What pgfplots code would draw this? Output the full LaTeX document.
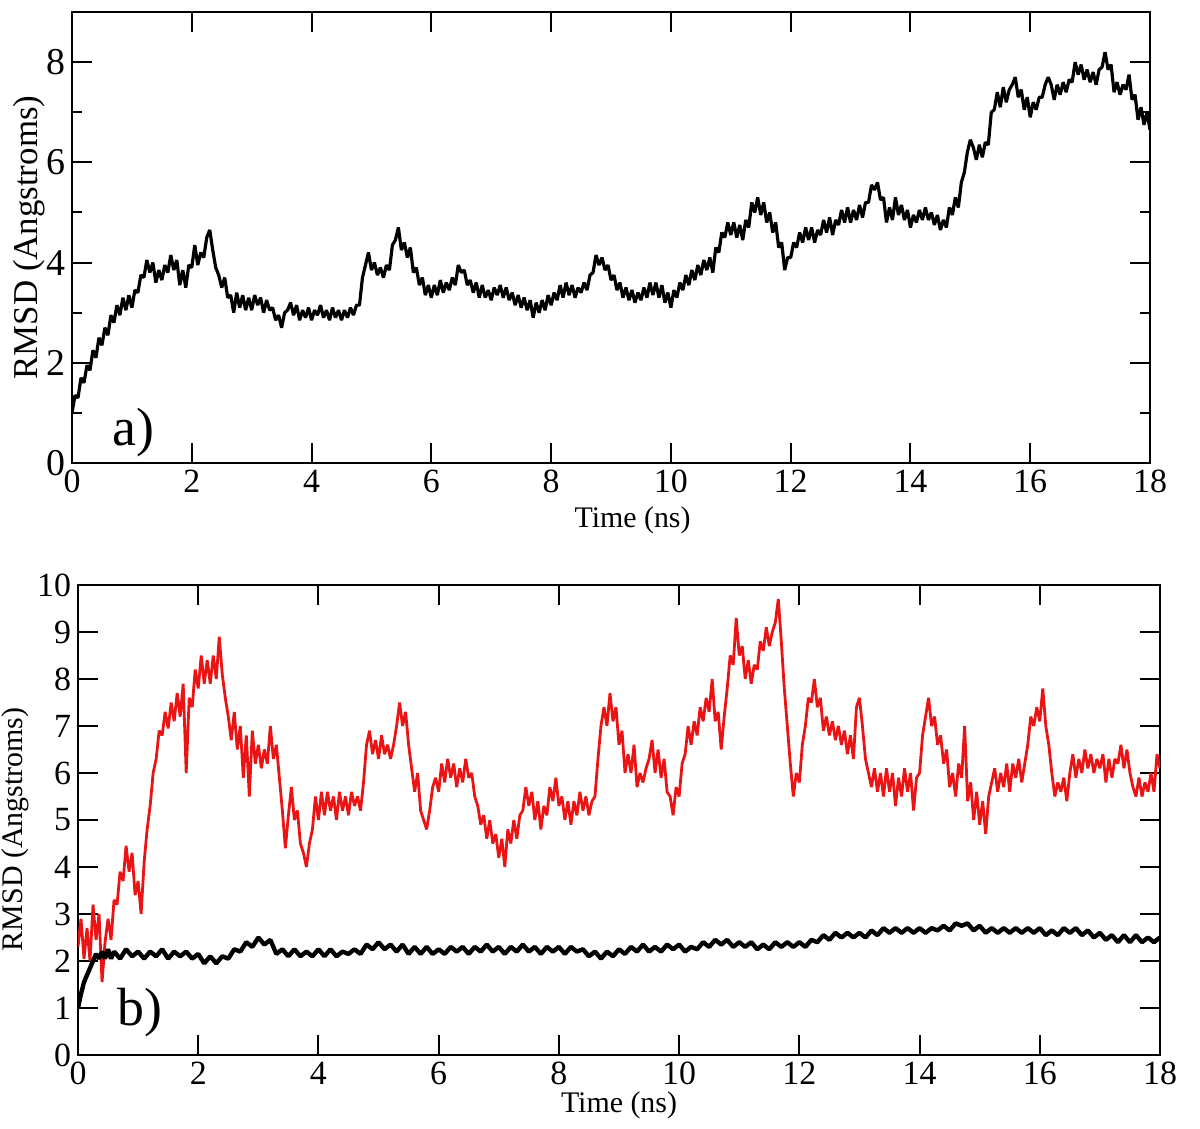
\documentclass[border=0pt]{standalone}
\usepackage{fontspec}
\setmainfont{Liberation Serif}
\usepackage{pgfplots}
\pgfplotsset{compat=1.18}
\definecolor{tracered}{RGB}{235,20,20}
\begin{document}
\begin{tikzpicture}
\useasboundingbox (0,0) rectangle (600bp,564.5bp);
\pgfplotsset{
  rmsd/.style={
    scale only axis,
    anchor=south west,
    xmin=0, xmax=18,
    xtick={0,2,...,18},
    tick align=inside,
    major tick length=10bp,
    minor tick length=5bp,
    axis line style={line width=1bp},
    every tick/.style={line width=1bp,black},
    /pgf/number format/assume math mode=true,
    xticklabel style={font=\fontsize{17}{17}\selectfont},
    yticklabel style={font=\fontsize{17}{17}\selectfont},
    xlabel={Time (ns)},
    ylabel={RMSD (Angstroms)},
    clip=true,
  }
}
\begin{axis}[rmsd,
  at={(36bp,333bp)}, width=539bp, height=225.5bp,
  ymin=0, ymax=9,
  ytick={0,2,4,6,8}, minor ytick={1,3,5,7},
  yticklabel style={font=\fontsize{19}{19}\selectfont},
  xlabel style={font=\fontsize{15}{15}\selectfont, at={(axis description cs:0.52,-0.126)}, anchor=center},
  ylabel style={font=\fontsize{17.5}{17.5}\selectfont, at={(axis description cs:-0.04,0.5)}, anchor=center},
]
\addplot[black, line width=1.6pt, line join=bevel] coordinates {
(0.00,1.00) (0.05,1.35) (0.10,1.30) (0.15,1.70) (0.20,1.60) (0.25,1.95) (0.30,1.85) (0.35,2.25) (0.40,2.10) (0.45,2.50)
(0.50,2.35) (0.55,2.70) (0.60,2.55) (0.65,2.95) (0.70,2.80) (0.75,3.15) (0.80,2.95) (0.85,3.30) (0.90,3.05) (0.95,3.35)
(1.00,3.10) (1.05,3.45) (1.10,3.40) (1.15,3.75) (1.20,3.70) (1.25,4.05) (1.30,3.80) (1.35,4.00) (1.40,3.60) (1.45,3.85)
(1.50,3.65) (1.55,3.95) (1.60,3.80) (1.65,4.15) (1.70,3.85) (1.75,4.05) (1.80,3.55) (1.85,3.85) (1.90,3.50) (1.95,3.95)
(2.00,3.90) (2.05,4.35) (2.10,3.95) (2.15,4.20) (2.20,4.10) (2.25,4.50) (2.30,4.65) (2.35,4.25) (2.40,3.90) (2.45,3.75)
(2.50,3.50) (2.55,3.70) (2.60,3.30) (2.65,3.35) (2.70,3.00) (2.75,3.40) (2.80,3.10) (2.85,3.35) (2.90,3.05) (2.95,3.30)
(3.00,3.05) (3.05,3.35) (3.10,3.15) (3.15,3.30) (3.20,3.00) (3.25,3.25) (3.30,3.05) (3.35,3.10) (3.40,2.85) (3.45,2.95)
(3.50,2.70) (3.55,3.00) (3.60,3.05) (3.65,3.20) (3.70,2.95) (3.75,3.15) (3.80,2.85) (3.85,3.05) (3.90,2.90) (3.95,3.10)
(4.00,2.85) (4.05,3.05) (4.10,2.95) (4.15,3.15) (4.20,2.90) (4.25,3.05) (4.30,2.85) (4.35,3.10) (4.40,2.90) (4.45,3.05)
(4.50,2.85) (4.55,3.05) (4.60,2.90) (4.65,3.10) (4.70,2.95) (4.75,3.15) (4.80,3.15) (4.85,3.70) (4.90,3.95) (4.95,4.20)
(5.00,3.85) (5.05,4.00) (5.10,3.75) (5.15,3.90) (5.20,3.70) (5.25,3.95) (5.30,3.85) (5.35,4.35) (5.40,4.45) (5.45,4.70)
(5.50,4.25) (5.55,4.40) (5.60,4.10) (5.65,4.30) (5.70,3.80) (5.75,3.90) (5.80,3.55) (5.85,3.70) (5.90,3.35) (5.95,3.55)
(6.00,3.30) (6.05,3.55) (6.10,3.35) (6.15,3.65) (6.20,3.40) (6.25,3.60) (6.30,3.45) (6.35,3.70) (6.40,3.55) (6.45,3.95)
(6.50,3.80) (6.55,3.85) (6.60,3.55) (6.65,3.65) (6.70,3.40) (6.75,3.60) (6.80,3.30) (6.85,3.55) (6.90,3.30) (6.95,3.45)
(7.00,3.25) (7.05,3.50) (7.10,3.35) (7.15,3.55) (7.20,3.30) (7.25,3.50) (7.30,3.25) (7.35,3.40) (7.40,3.15) (7.45,3.35)
(7.50,3.10) (7.55,3.30) (7.60,3.05) (7.65,3.25) (7.70,2.90) (7.75,3.20) (7.80,3.00) (7.85,3.25) (7.90,3.05) (7.95,3.35)
(8.00,3.15) (8.05,3.40) (8.10,3.25) (8.15,3.55) (8.20,3.30) (8.25,3.60) (8.30,3.35) (8.35,3.55) (8.40,3.30) (8.45,3.50)
(8.50,3.40) (8.55,3.60) (8.60,3.45) (8.65,3.75) (8.70,3.80) (8.75,4.15) (8.80,3.95) (8.85,4.10) (8.90,3.85) (8.95,3.95)
(9.00,3.65) (9.05,3.75) (9.10,3.45) (9.15,3.60) (9.20,3.30) (9.25,3.50) (9.30,3.25) (9.35,3.45) (9.40,3.20) (9.45,3.40)
(9.50,3.25) (9.55,3.50) (9.60,3.30) (9.65,3.60) (9.70,3.35) (9.75,3.60) (9.80,3.30) (9.85,3.55) (9.90,3.20) (9.95,3.40)
(10.00,3.10) (10.05,3.45) (10.10,3.30) (10.15,3.60) (10.20,3.45) (10.25,3.75) (10.30,3.55) (10.35,3.85) (10.40,3.65) (10.45,3.95)
(10.50,3.75) (10.55,4.05) (10.60,3.85) (10.65,4.10) (10.70,3.80) (10.75,4.30) (10.80,4.20) (10.85,4.60) (10.90,4.50) (10.95,4.80)
(11.00,4.55) (11.05,4.80) (11.10,4.50) (11.15,4.75) (11.20,4.45) (11.25,4.85) (11.30,4.70) (11.35,5.20) (11.40,5.00) (11.45,5.30)
(11.50,4.95) (11.55,5.20) (11.60,4.80) (11.65,5.00) (11.70,4.60) (11.75,4.80) (11.80,4.30) (11.85,4.40) (11.90,3.85) (11.95,4.10)
(12.00,4.10) (12.05,4.40) (12.10,4.30) (12.15,4.60) (12.20,4.40) (12.25,4.70) (12.30,4.45) (12.35,4.70) (12.40,4.40) (12.45,4.65)
(12.50,4.55) (12.55,4.85) (12.60,4.60) (12.65,4.90) (12.70,4.55) (12.75,4.85) (12.80,4.75) (12.85,5.05) (12.90,4.80) (12.95,5.10)
(13.00,4.80) (13.05,5.05) (13.10,4.85) (13.15,5.15) (13.20,4.90) (13.25,5.20) (13.30,5.20) (13.35,5.55) (13.40,5.45) (13.45,5.60)
(13.50,5.25) (13.55,5.30) (13.60,4.80) (13.65,5.10) (13.70,4.85) (13.75,5.30) (13.80,4.95) (13.85,5.15) (13.90,4.85) (13.95,5.05)
(14.00,4.70) (14.05,4.95) (14.10,4.80) (14.15,5.05) (14.20,4.85) (14.25,5.10) (14.30,4.85) (14.35,5.00) (14.40,4.75) (14.45,4.95)
(14.50,4.65) (14.55,4.85) (14.60,4.70) (14.65,5.10) (14.70,4.95) (14.75,5.30) (14.80,5.10) (14.85,5.60) (14.90,5.80) (14.95,6.20)
(15.00,6.45) (15.05,6.30) (15.10,6.05) (15.15,6.35) (15.20,6.10) (15.25,6.40) (15.30,6.35) (15.35,7.00) (15.40,7.05) (15.45,7.40)
(15.50,7.10) (15.55,7.50) (15.60,7.20) (15.65,7.45) (15.70,7.55) (15.75,7.70) (15.80,7.30) (15.85,7.45) (15.90,7.05) (15.95,7.30)
(16.00,6.90) (16.05,7.20) (16.10,7.05) (16.15,7.30) (16.20,7.30) (16.25,7.55) (16.30,7.70) (16.35,7.55) (16.40,7.25) (16.45,7.55)
(16.50,7.35) (16.55,7.60) (16.60,7.40) (16.65,7.65) (16.70,7.60) (16.75,8.00) (16.80,7.75) (16.85,7.95) (16.90,7.65) (16.95,7.85)
(17.00,7.60) (17.05,7.80) (17.10,7.55) (17.15,7.85) (17.20,7.90) (17.25,8.20) (17.30,7.85) (17.35,7.95) (17.40,7.40) (17.45,7.60)
(17.50,7.35) (17.55,7.55) (17.60,7.45) (17.65,7.75) (17.70,7.25) (17.75,7.35) (17.80,6.85) (17.85,7.10) (17.90,6.75) (17.95,7.00)
(18.00,6.65)
};
\node[font=\fontsize{27}{27}\selectfont] at (axis cs:1.03,0.6) {a)};
\end{axis}

\begin{axis}[rmsd,
  at={(39bp,37bp)}, width=541bp, height=235bp,
  ymin=0, ymax=10,
  ytick={0,1,...,10},
  xlabel style={font=\fontsize{15}{15}\selectfont, at={(axis description cs:0.5,-0.106)}, anchor=center},
  ylabel style={font=\fontsize{15}{15}\selectfont, at={(axis description cs:-0.058,0.48)}, anchor=center},
]
\addplot[tracered, line width=1.4pt, line join=bevel] coordinates {
(0.00,2.30) (0.05,2.90) (0.10,2.05) (0.15,2.70) (0.20,2.00) (0.25,3.20) (0.30,2.45) (0.35,3.00) (0.40,1.55) (0.45,2.40)
(0.50,2.90) (0.55,2.45) (0.60,3.30) (0.65,3.20) (0.70,3.90) (0.75,3.70) (0.80,4.45) (0.85,3.90) (0.90,4.30) (0.95,3.40)
(1.00,3.70) (1.05,3.00) (1.10,4.10) (1.15,4.80) (1.20,5.30) (1.25,6.00) (1.30,6.30) (1.35,6.90) (1.40,6.80) (1.45,7.30)
(1.50,6.95) (1.55,7.50) (1.60,7.10) (1.65,7.70) (1.70,7.20) (1.75,7.90) (1.80,6.00) (1.85,7.60) (1.90,7.40) (1.95,8.20)
(2.00,7.80) (2.05,8.50) (2.10,7.90) (2.15,8.40) (2.20,7.90) (2.25,8.50) (2.30,8.00) (2.35,8.90) (2.40,8.10) (2.45,7.60)
(2.50,7.20) (2.55,6.70) (2.60,7.30) (2.65,6.50) (2.70,7.00) (2.75,5.90) (2.80,6.80) (2.85,5.50) (2.90,6.90) (2.95,6.20)
(3.00,6.60) (3.05,6.10) (3.10,6.50) (3.15,6.20) (3.20,7.00) (3.25,6.30) (3.30,6.60) (3.35,5.90) (3.40,5.20) (3.45,4.40)
(3.50,5.10) (3.55,5.70) (3.60,5.00) (3.65,5.20) (3.70,4.50) (3.75,4.30) (3.80,4.00) (3.85,4.50) (3.90,4.80) (3.95,5.50)
(4.00,5.00) (4.05,5.60) (4.10,5.10) (4.15,5.60) (4.20,5.20) (4.25,5.50) (4.30,5.00) (4.35,5.60) (4.40,5.20) (4.45,5.50)
(4.50,5.10) (4.55,5.60) (4.60,5.30) (4.65,5.50) (4.70,5.20) (4.75,5.80) (4.80,6.60) (4.85,6.90) (4.90,6.40) (4.95,6.70)
(5.00,6.30) (5.05,6.80) (5.10,6.40) (5.15,6.60) (5.20,6.30) (5.25,6.60) (5.30,7.00) (5.35,7.50) (5.40,7.00) (5.45,7.30)
(5.50,6.60) (5.55,6.10) (5.60,5.60) (5.65,6.00) (5.70,5.20) (5.75,5.00) (5.80,4.80) (5.85,5.20) (5.90,5.70) (5.95,5.90)
(6.00,5.60) (6.05,6.20) (6.10,5.80) (6.15,6.30) (6.20,5.90) (6.25,6.20) (6.30,5.70) (6.35,6.10) (6.40,5.80) (6.45,6.30)
(6.50,5.90) (6.55,6.00) (6.60,5.50) (6.65,5.30) (6.70,4.90) (6.75,5.10) (6.80,4.60) (6.85,5.00) (6.90,4.50) (6.95,4.70)
(7.00,4.20) (7.05,4.60) (7.10,4.00) (7.15,4.80) (7.20,4.50) (7.25,5.00) (7.30,4.60) (7.35,5.10) (7.40,5.20) (7.45,5.70)
(7.50,5.30) (7.55,5.60) (7.60,5.00) (7.65,5.40) (7.70,4.80) (7.75,5.30) (7.80,5.10) (7.85,5.70) (7.90,5.40) (7.95,5.90)
(8.00,5.30) (8.05,5.50) (8.10,5.00) (8.15,5.40) (8.20,4.90) (8.25,5.40) (8.30,5.10) (8.35,5.60) (8.40,5.20) (8.45,5.50)
(8.50,5.10) (8.55,5.40) (8.60,5.50) (8.65,6.30) (8.70,7.00) (8.75,7.40) (8.80,7.00) (8.85,7.70) (8.90,7.10) (8.95,7.40)
(9.00,6.60) (9.05,6.90) (9.10,6.00) (9.15,6.40) (9.20,6.00) (9.25,6.60) (9.30,5.70) (9.35,6.00) (9.40,5.80) (9.45,6.10)
(9.50,6.30) (9.55,6.70) (9.60,6.00) (9.65,6.50) (9.70,5.90) (9.75,6.30) (9.80,5.60) (9.85,5.50) (9.90,5.10) (9.95,5.70)
(10.00,5.50) (10.05,6.20) (10.10,6.40) (10.15,7.00) (10.20,6.60) (10.25,7.10) (10.30,6.80) (10.35,7.40) (10.40,7.10) (10.45,7.60)
(10.50,7.30) (10.55,8.00) (10.60,7.10) (10.65,7.30) (10.70,6.50) (10.75,7.20) (10.80,7.80) (10.85,8.50) (10.90,8.30) (10.95,9.30)
(11.00,8.50) (11.05,8.70) (11.10,8.00) (11.15,8.40) (11.20,7.90) (11.25,8.30) (11.30,8.20) (11.35,8.80) (11.40,8.60) (11.45,9.10)
(11.50,8.70) (11.55,9.00) (11.60,9.20) (11.65,9.70) (11.70,8.80) (11.75,7.80) (11.80,7.00) (11.85,6.20) (11.90,5.50) (11.95,6.00)
(12.00,5.80) (12.05,6.60) (12.10,7.00) (12.15,7.60) (12.20,7.50) (12.25,8.00) (12.30,7.40) (12.35,7.60) (12.40,6.90) (12.45,7.20)
(12.50,6.80) (12.55,7.10) (12.60,6.70) (12.65,7.00) (12.70,6.60) (12.75,6.90) (12.80,6.40) (12.85,6.80) (12.90,6.30) (12.95,7.40)
(13.00,7.60) (13.05,7.00) (13.10,6.30) (13.15,6.00) (13.20,5.70) (13.25,6.10) (13.30,5.60) (13.35,6.00) (13.40,5.50) (13.45,6.10)
(13.50,5.60) (13.55,6.00) (13.60,5.30) (13.65,5.90) (13.70,5.50) (13.75,6.10) (13.80,5.60) (13.85,6.00) (13.90,5.20) (13.95,5.90)
(14.00,6.00) (14.05,6.80) (14.10,7.20) (14.15,7.60) (14.20,7.00) (14.25,7.20) (14.30,6.60) (14.35,6.80) (14.40,6.20) (14.45,6.50)
(14.50,5.70) (14.55,6.00) (14.60,5.50) (14.65,6.20) (14.70,5.90) (14.75,7.00) (14.80,5.40) (14.85,5.80) (14.90,5.00) (14.95,5.60)
(15.00,4.90) (15.05,5.40) (15.10,4.70) (15.15,5.50) (15.20,5.80) (15.25,6.10) (15.30,5.60) (15.35,6.00) (15.40,5.70) (15.45,6.20)
(15.50,5.60) (15.55,6.20) (15.60,5.90) (15.65,6.30) (15.70,5.80) (15.75,6.20) (15.80,6.60) (15.85,7.20) (15.90,7.00) (15.95,7.40)
(16.00,7.10) (16.05,7.80) (16.10,7.00) (16.15,6.60) (16.20,6.00) (16.25,5.50) (16.30,5.80) (16.35,5.60) (16.40,5.90) (16.45,5.40)
(16.50,6.00) (16.55,6.40) (16.60,5.90) (16.65,6.30) (16.70,6.00) (16.75,6.50) (16.80,6.10) (16.85,6.40) (16.90,6.00) (16.95,6.30)
(17.00,6.10) (17.05,6.40) (17.10,5.80) (17.15,6.30) (17.20,5.90) (17.25,6.30) (17.30,6.20) (17.35,6.60) (17.40,6.10) (17.45,6.50)
(17.50,6.00) (17.55,5.70) (17.60,5.50) (17.65,5.90) (17.70,5.50) (17.75,5.80) (17.80,5.60) (17.85,6.00) (17.90,5.60) (17.95,6.40)
(18.00,6.10)
};
\addplot[black, line width=2.2pt, line join=bevel] coordinates {
(0.00,1.00) (0.05,1.30) (0.10,1.55) (0.15,1.70) (0.20,1.85) (0.25,2.00) (0.30,2.15) (0.35,2.05) (0.40,2.20) (0.45,2.05)
(0.50,2.25) (0.55,2.05) (0.60,2.20) (0.70,2.05) (0.80,2.25) (0.90,2.10) (1.00,2.20) (1.10,2.05) (1.20,2.20) (1.30,2.10)
(1.40,2.25) (1.50,2.05) (1.60,2.20) (1.70,2.10) (1.80,2.20) (1.90,2.05) (2.00,2.15) (2.10,1.95) (2.20,2.10) (2.30,1.95)
(2.40,2.10) (2.50,2.05) (2.60,2.25) (2.70,2.20) (2.80,2.40) (2.90,2.30) (3.00,2.50) (3.10,2.35) (3.20,2.45) (3.30,2.15)
(3.40,2.25) (3.50,2.10) (3.60,2.25) (3.70,2.10) (3.80,2.20) (3.90,2.10) (4.00,2.25) (4.10,2.10) (4.20,2.25) (4.30,2.10)
(4.40,2.20) (4.50,2.15) (4.60,2.25) (4.70,2.15) (4.80,2.35) (4.90,2.25) (5.00,2.40) (5.10,2.25) (5.20,2.35) (5.30,2.20)
(5.40,2.35) (5.50,2.15) (5.60,2.30) (5.70,2.15) (5.80,2.30) (5.90,2.15) (6.00,2.25) (6.10,2.15) (6.20,2.30) (6.30,2.20)
(6.40,2.30) (6.50,2.15) (6.60,2.30) (6.70,2.20) (6.80,2.35) (6.90,2.20) (7.00,2.30) (7.10,2.15) (7.20,2.30) (7.30,2.20)
(7.40,2.35) (7.50,2.20) (7.60,2.30) (7.70,2.15) (7.80,2.30) (7.90,2.20) (8.00,2.30) (8.10,2.15) (8.20,2.30) (8.30,2.20)
(8.40,2.25) (8.50,2.10) (8.60,2.20) (8.70,2.05) (8.80,2.20) (8.90,2.10) (9.00,2.25) (9.10,2.15) (9.20,2.30) (9.30,2.20)
(9.40,2.35) (9.50,2.20) (9.60,2.30) (9.70,2.20) (9.80,2.35) (9.90,2.25) (10.00,2.35) (10.10,2.20) (10.20,2.30) (10.30,2.25)
(10.40,2.40) (10.50,2.30) (10.60,2.45) (10.70,2.35) (10.80,2.45) (10.90,2.30) (11.00,2.40) (11.10,2.30) (11.20,2.40) (11.30,2.25)
(11.40,2.35) (11.50,2.25) (11.60,2.40) (11.70,2.30) (11.80,2.40) (11.90,2.30) (12.00,2.40) (12.10,2.30) (12.20,2.45) (12.30,2.40)
(12.40,2.55) (12.50,2.45) (12.60,2.60) (12.70,2.50) (12.80,2.60) (12.90,2.50) (13.00,2.60) (13.10,2.50) (13.20,2.65) (13.30,2.55)
(13.40,2.70) (13.50,2.60) (13.60,2.70) (13.70,2.60) (13.80,2.70) (13.90,2.60) (14.00,2.70) (14.10,2.60) (14.20,2.70) (14.30,2.65)
(14.40,2.75) (14.50,2.65) (14.60,2.80) (14.70,2.75) (14.80,2.80) (14.90,2.65) (15.00,2.75) (15.10,2.60) (15.20,2.70) (15.30,2.60)
(15.40,2.70) (15.50,2.60) (15.60,2.70) (15.70,2.60) (15.80,2.70) (15.90,2.60) (16.00,2.70) (16.10,2.55) (16.20,2.65) (16.30,2.55)
(16.40,2.70) (16.50,2.60) (16.60,2.70) (16.70,2.55) (16.80,2.65) (16.90,2.50) (17.00,2.60) (17.10,2.45) (17.20,2.55) (17.30,2.40)
(17.40,2.55) (17.50,2.40) (17.60,2.55) (17.70,2.40) (17.80,2.50) (17.90,2.40) (18.00,2.50)
};
\node[font=\fontsize{27}{27}\selectfont] at (axis cs:1.03,0.9) {b)};
\end{axis}
\end{tikzpicture}
\end{document}
